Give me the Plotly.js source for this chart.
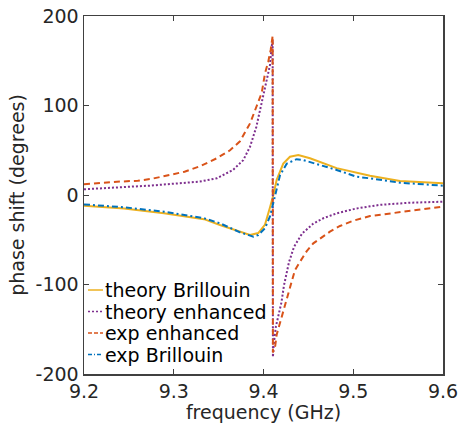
<!DOCTYPE html>
<html>
<head>
<meta charset="utf-8">
<script src="https://cdn.plot.ly/plotly-3.0.1.min.js"></script>
<style>html,body{margin:0;padding:0;background:#fff;}#chart{width:460px;height:423px;}</style>
</head>
<body>
<div id="chart"></div>
<script>
// ---- data ----
const seriesNames = ['theory Brillouin', 'theory enhanced', 'exp enhanced', 'exp Brillouin'];

const theoryBrillouinF = [9.2, 9.2446, 9.2891, 9.3337, 9.3515, 9.3738, 9.385, 9.3942, 9.4017, 9.4072, 9.411, 9.4147, 9.4184, 9.422, 9.4295, 9.4388, 9.4518, 9.4815, 9.5187, 9.5521, 9.6];
const theoryBrillouinV = [-12, -15, -20.5, -27, -33.5, -41, -44.7, -42.5, -33, -14, 0, 17, 26, 35, 42.8, 44.7, 41, 30, 21.5, 15.6, 13];

const theoryEnhancedF = [9.2, 9.237, 9.274, 9.311, 9.329, 9.348, 9.366, 9.3775, 9.385, 9.392, 9.3998, 9.4072, 9.4091, 9.4102, 9.4105, 9.4115, 9.4138, 9.4175, 9.42, 9.4228, 9.4284, 9.434, 9.443, 9.4555, 9.4666, 9.4815, 9.5037, 9.5297, 9.5632, 9.6];
const theoryEnhancedV = [6.4, 8.2, 10.5, 13.5, 15, 18.7, 28, 39, 54, 76, 112, 145, 166, 173, -181, -166, -147, -132, -120, -101, -75, -58, -43, -32, -26, -20.5, -15, -11, -8.6, -7.5];

const expEnhancedF = [9.2, 9.206, 9.222, 9.24, 9.26, 9.275, 9.294, 9.312, 9.329, 9.3478, 9.3627, 9.3738, 9.385, 9.3925, 9.398, 9.4017, 9.4053, 9.408, 9.4102, 9.4105, 9.413, 9.4147, 9.4184, 9.422, 9.4295, 9.435, 9.4407, 9.448, 9.4555, 9.474, 9.4852, 9.5, 9.5187, 9.541, 9.5632, 9.6];
const expEnhancedV = [12, 12.3, 13.7, 15, 16, 18, 22, 26, 32, 41, 50, 60, 80, 99, 114, 136, 149, 162, 178, -176, -169, -156, -143, -128, -101, -84, -74.5, -63, -54, -41, -34.6, -28.7, -23.5, -20.5, -17.9, -13];

const expBrillouinF = [9.2, 9.2446, 9.2891, 9.3337, 9.3515, 9.3738, 9.3887, 9.3942, 9.4017, 9.4072, 9.4109, 9.4146, 9.4184, 9.4258, 9.4369, 9.4444, 9.463, 9.4815, 9.5037, 9.5187, 9.5521, 9.6];
const expBrillouinV = [-10.5, -13.7, -18.6, -26, -31.6, -41.7, -46.5, -44.7, -37, -24, -9, 5, 22, 35, 40, 39, 33.5, 28, 20.4, 18.6, 13.7, 10.4];

const xTickVals = [9.2, 9.3, 9.4, 9.5, 9.6];
const xTickText = ['9.2', '9.3', '9.4', '9.5', '9.6'];
const yTickVals = [-200, -100, 0, 100, 200];
const yTickText = ['-200', '-100', '0', '100', '200'];

// ---- chart ----
const FONT = 'DejaVu Sans, sans-serif';
const FS = 19;
const TXT = '#262626';
const AX = '#404040';

const styles = [
  {color: '#EDB120', width: 2, dash: 'solid'},
  {color: '#7E2F8E', width: 2, dash: '2px,2px'},
  {color: '#D95319', width: 2, dash: '6px,4px'},
  {color: '#0072BD', width: 2, dash: '6px,3px,2px,3px'}
];
const xs = [theoryBrillouinF, theoryEnhancedF, expEnhancedF, expBrillouinF];
const ys = [theoryBrillouinV, theoryEnhancedV, expEnhancedV, expBrillouinV];

const traces = seriesNames.map((n, i) => ({
  x: xs[i], y: ys[i], name: n, type: 'scatter', mode: 'lines', line: styles[i], showlegend: false
}));

// legend drawn inside the axes (bottom-left), as in the reference
const plotL = 84, plotW = 359, plotB = 374, plotH = 358;
const rowPx = [290, 311.5, 333, 354.5];
const shapes = [], annotations = [];
rowPx.forEach((py, i) => {
  const yp = (plotB - py) / plotH;
  shapes.push({type: 'line', xref: 'paper', yref: 'paper',
    x0: (88 - plotL) / plotW, x1: (103 - plotL) / plotW, y0: yp, y1: yp,
    line: {color: styles[i].color, width: 1.5, dash: i === 0 ? 'solid' : (i === 1 ? '2px,2px' : (i === 2 ? '4px,2px' : '4px,2px,1px,2px'))}});
  annotations.push({xref: 'paper', yref: 'paper', x: (103 - plotL) / plotW, y: yp,
    xanchor: 'left', yanchor: 'middle', showarrow: false, text: seriesNames[i],
    font: {family: FONT, size: FS, color: '#000'}});
});

const layout = {
  width: 460, height: 423,
  margin: {l: 84, r: 17, t: 16, b: 49, pad: 0},
  paper_bgcolor: '#ffffff', plot_bgcolor: '#ffffff',
  font: {family: FONT, size: FS, color: TXT},
  showlegend: false,
  shapes: shapes,
  annotations: annotations,
  xaxis: {
    range: [9.2, 9.6], tickmode: 'array', tickvals: xTickVals, ticktext: xTickText,
    ticks: 'inside', ticklen: 5, tickwidth: 1, tickcolor: AX,
    showline: true, linecolor: AX, linewidth: 1.5, mirror: 'ticks',
    showgrid: false, zeroline: false,
    tickfont: {family: FONT, size: FS, color: TXT},
    title: {text: 'frequency (GHz)', font: {family: FONT, size: FS, color: TXT}, standoff: 2}
  },
  yaxis: {
    range: [-200, 200], tickmode: 'array', tickvals: yTickVals, ticktext: yTickText,
    ticks: 'inside', ticklen: 5, tickwidth: 1, tickcolor: AX,
    showline: true, linecolor: AX, linewidth: 1.5, mirror: 'ticks',
    showgrid: false, zeroline: false,
    tickfont: {family: FONT, size: FS, color: TXT},
    title: {text: 'phase shift (degrees)', font: {family: FONT, size: FS, color: TXT}, standoff: 6}
  }
};

Plotly.newPlot('chart', traces, layout, {displayModeBar: false, staticPlot: true});
</script>
</body>
</html>
